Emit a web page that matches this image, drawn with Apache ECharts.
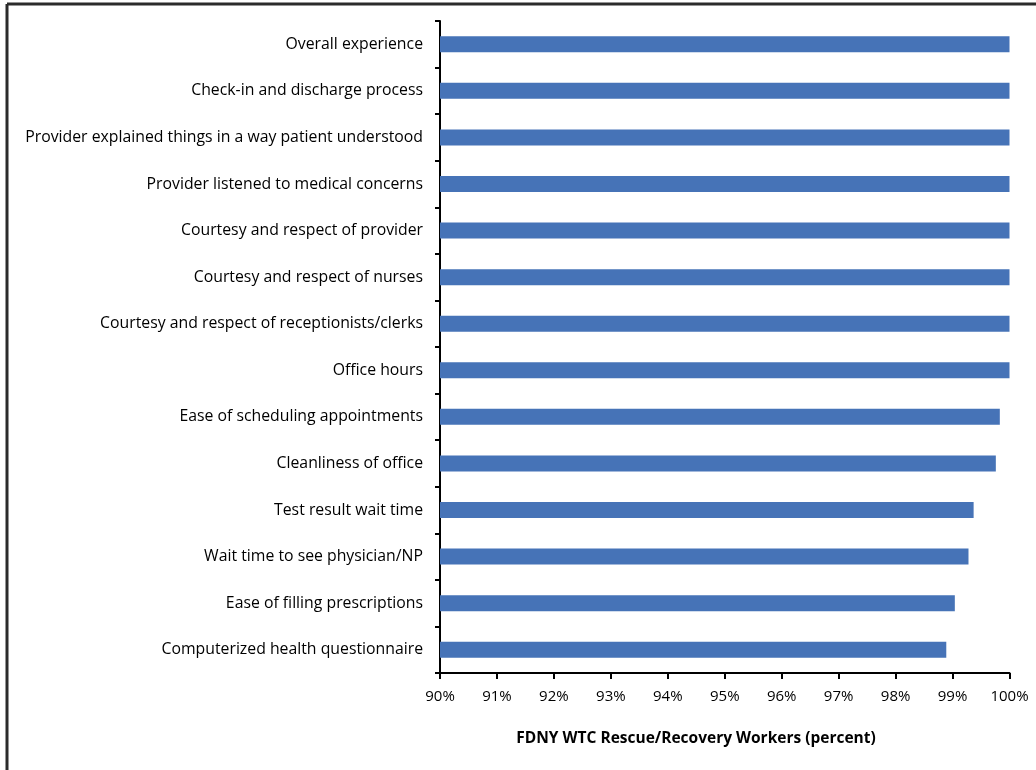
<!DOCTYPE html>
<html>
<head>
<meta charset="utf-8">
<script src="https://cdn.jsdelivr.net/npm/echarts@6/dist/echarts.min.js"></script>
<style>
  html, body { margin: 0; padding: 0; background: #fff; }
  #chart { width: 1036px; height: 770px; }
</style>
</head>
<body>
<div id="chart"></div>
<script>
// Survey items, listed top to bottom
const categories = [
  'Overall experience',
  'Check-in and discharge process',
  'Provider explained things in a way patient understood',
  'Provider listened to medical concerns',
  'Courtesy and respect of provider',
  'Courtesy and respect of nurses',
  'Courtesy and respect of receptionists/clerks',
  'Office hours',
  'Ease of scheduling appointments',
  'Cleanliness of office',
  'Test result wait time',
  'Wait time to see physician/NP',
  'Ease of filling prescriptions',
  'Computerized health questionnaire'
];

// Percent satisfied, same order as categories
const satisfied = [100, 100, 100, 100, 100, 100, 100, 100, 99.83, 99.76, 99.37, 99.28, 99.04, 98.89];

const axisTitle = 'FDNY WTC Rescue/Recovery Workers (percent)';

const FONT = '"Open Sans"';
const chart = echarts.init(document.getElementById('chart'));

chart.setOption({
  backgroundColor: '#ffffff',
  animation: false,
  grid: { left: 440, right: 26.5, top: 21, bottom: 97, containLabel: false },
  xAxis: {
    type: 'value',
    min: 90,
    max: 100,
    interval: 1,
    axisLine: { show: true, lineStyle: { color: '#000', width: 2 } },
    axisTick: { show: true, length: 6, lineStyle: { color: '#000', width: 2 } },
    splitLine: { show: false },
    axisLabel: {
      formatter: '{value}%',
      color: '#000',
      fontFamily: FONT,
      fontSize: 15,
      margin: 16
    }
  },
  yAxis: {
    type: 'category',
    data: categories,
    inverse: true,
    axisLine: { show: true, lineStyle: { color: '#000', width: 2 } },
    axisTick: { show: true, length: 5, lineStyle: { color: '#000', width: 2 } },
    axisLabel: {
      color: '#000',
      fontFamily: FONT,
      fontSize: 15.8,
      margin: 17
    }
  },
  series: [{
    type: 'bar',
    data: satisfied,
    barWidth: 16,
    itemStyle: { color: '#4673b7' },
    silent: true
  }],
  graphic: [
    {
      type: 'line',
      shape: { x1: 7, y1: 4, x2: 1036, y2: 4 },
      style: { stroke: '#2b2b2b', lineWidth: 3 }
    },
    {
      type: 'line',
      shape: { x1: 7, y1: 4, x2: 7, y2: 770 },
      style: { stroke: '#2b2b2b', lineWidth: 3 }
    },
    {
      type: 'text',
      x: 696,
      y: 739,
      style: {
        text: axisTitle,
        fill: '#000',
        font: 'bold 15.5px ' + FONT,
        textAlign: 'center',
        textVerticalAlign: 'middle'
      }
    }
  ]
});
</script>
</body>
</html>
